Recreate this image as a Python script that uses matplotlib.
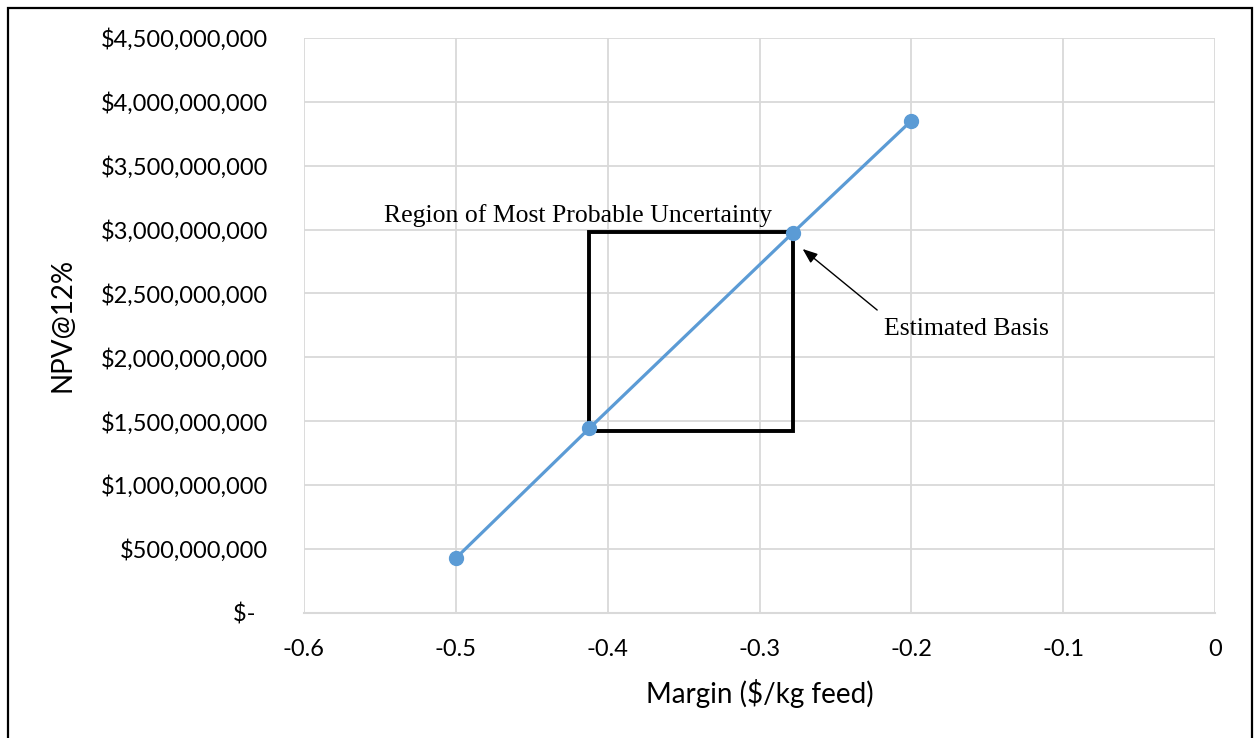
import matplotlib
matplotlib.use("Agg")
import matplotlib.pyplot as plt
from matplotlib.ticker import FuncFormatter, MultipleLocator
from matplotlib.patches import Rectangle

# Sensitivity of NPV to margin
margin = [-0.5, -0.412, -0.278, -0.2]          # $/kg feed
npv = [0.427e9, 1.445e9, 2.975e9, 3.852e9]     # NPV @ 12%

# Region of most probable uncertainty (margin range, NPV range)
box_margin = [-0.412, -0.278]
box_npv = [1.42e9, 2.98e9]

x_ticks = [-0.6, -0.5, -0.4, -0.3, -0.2, -0.1, 0]
x_tick_labels = ["-0.6", "-0.5", "-0.4", "-0.3", "-0.2", "-0.1", "0"]

plt.rcParams["font.family"] = ["Lato", "DejaVu Sans"]

fig = plt.figure(figsize=(12.57, 7.38), dpi=100)
ax = fig.add_axes([304 / 1257, 1 - 612.7 / 738, (1215 - 304) / 1257, (612.7 - 38) / 738])

grid_c = "#d9d9d9"
line_c = "#5b9bd5"

ax.plot(margin, npv, color=line_c, lw=2.3, marker="o", ms=10, zorder=4, clip_on=False)

ax.set_xlim(-0.6, 0)
ax.set_ylim(0, 4.5e9)
ax.set_xticks(x_ticks)
ax.set_xticklabels(x_tick_labels)
ax.yaxis.set_major_locator(MultipleLocator(5e8))


def money(v, pos):
    if abs(v) < 1:
        return "$-  "
    return "${:,.0f}".format(v)


ax.yaxis.set_major_formatter(FuncFormatter(money))
ax.grid(True, color=grid_c, lw=1.3, zorder=0)
ax.set_axisbelow(True)
for side in ["left", "right", "top"]:
    ax.spines[side].set_visible(False)
ax.spines["bottom"].set_color(grid_c)
ax.spines["bottom"].set_linewidth(1.5)
ax.tick_params(axis="both", length=0, labelsize=17, colors="black")
ax.tick_params(axis="y", pad=26)
ax.tick_params(axis="x", pad=19)

ax.set_xlabel("Margin ($/kg feed)", fontsize=20)
ax.xaxis.label.set_va("center")
ax.xaxis.set_label_coords(0.5, (612.7 - 693) / 574.7)
ax.set_ylabel("NPV@12%", fontsize=20)
ax.yaxis.label.set_va("center")
ax.yaxis.set_label_coords((63 - 304) / 911, 0.5)

rect = Rectangle((box_margin[0], box_npv[0]), box_margin[1] - box_margin[0],
                 box_npv[1] - box_npv[0], fill=False, ec="black", lw=2.8, zorder=3)
ax.add_patch(rect)

ax.text(-0.4195, 3.06e9, "Region of Most Probable Uncertainty", family="Liberation Serif",
        fontsize=18.5, ha="center", va="baseline")

ax.text(-0.2179, 2.175e9, "Estimated Basis", family="Liberation Serif",
        fontsize=18.5, ha="left", va="baseline")
ax.annotate("", xy=(-0.2716, 2.848e9), xytext=(-0.2225, 2.37e9),
            arrowprops=dict(arrowstyle="-|>,head_width=0.35,head_length=0.9",
                            color="black", lw=1.0, shrinkA=0, shrinkB=0))

# Outer frame
fig.patches.append(Rectangle((8 / 1257, -0.05), (1251.5 - 8) / 1257, 1.05 - 7.5 / 738,
                             transform=fig.transFigure, fill=False, ec="black", lw=1.6))

fig.savefig("out.png", dpi=100)
